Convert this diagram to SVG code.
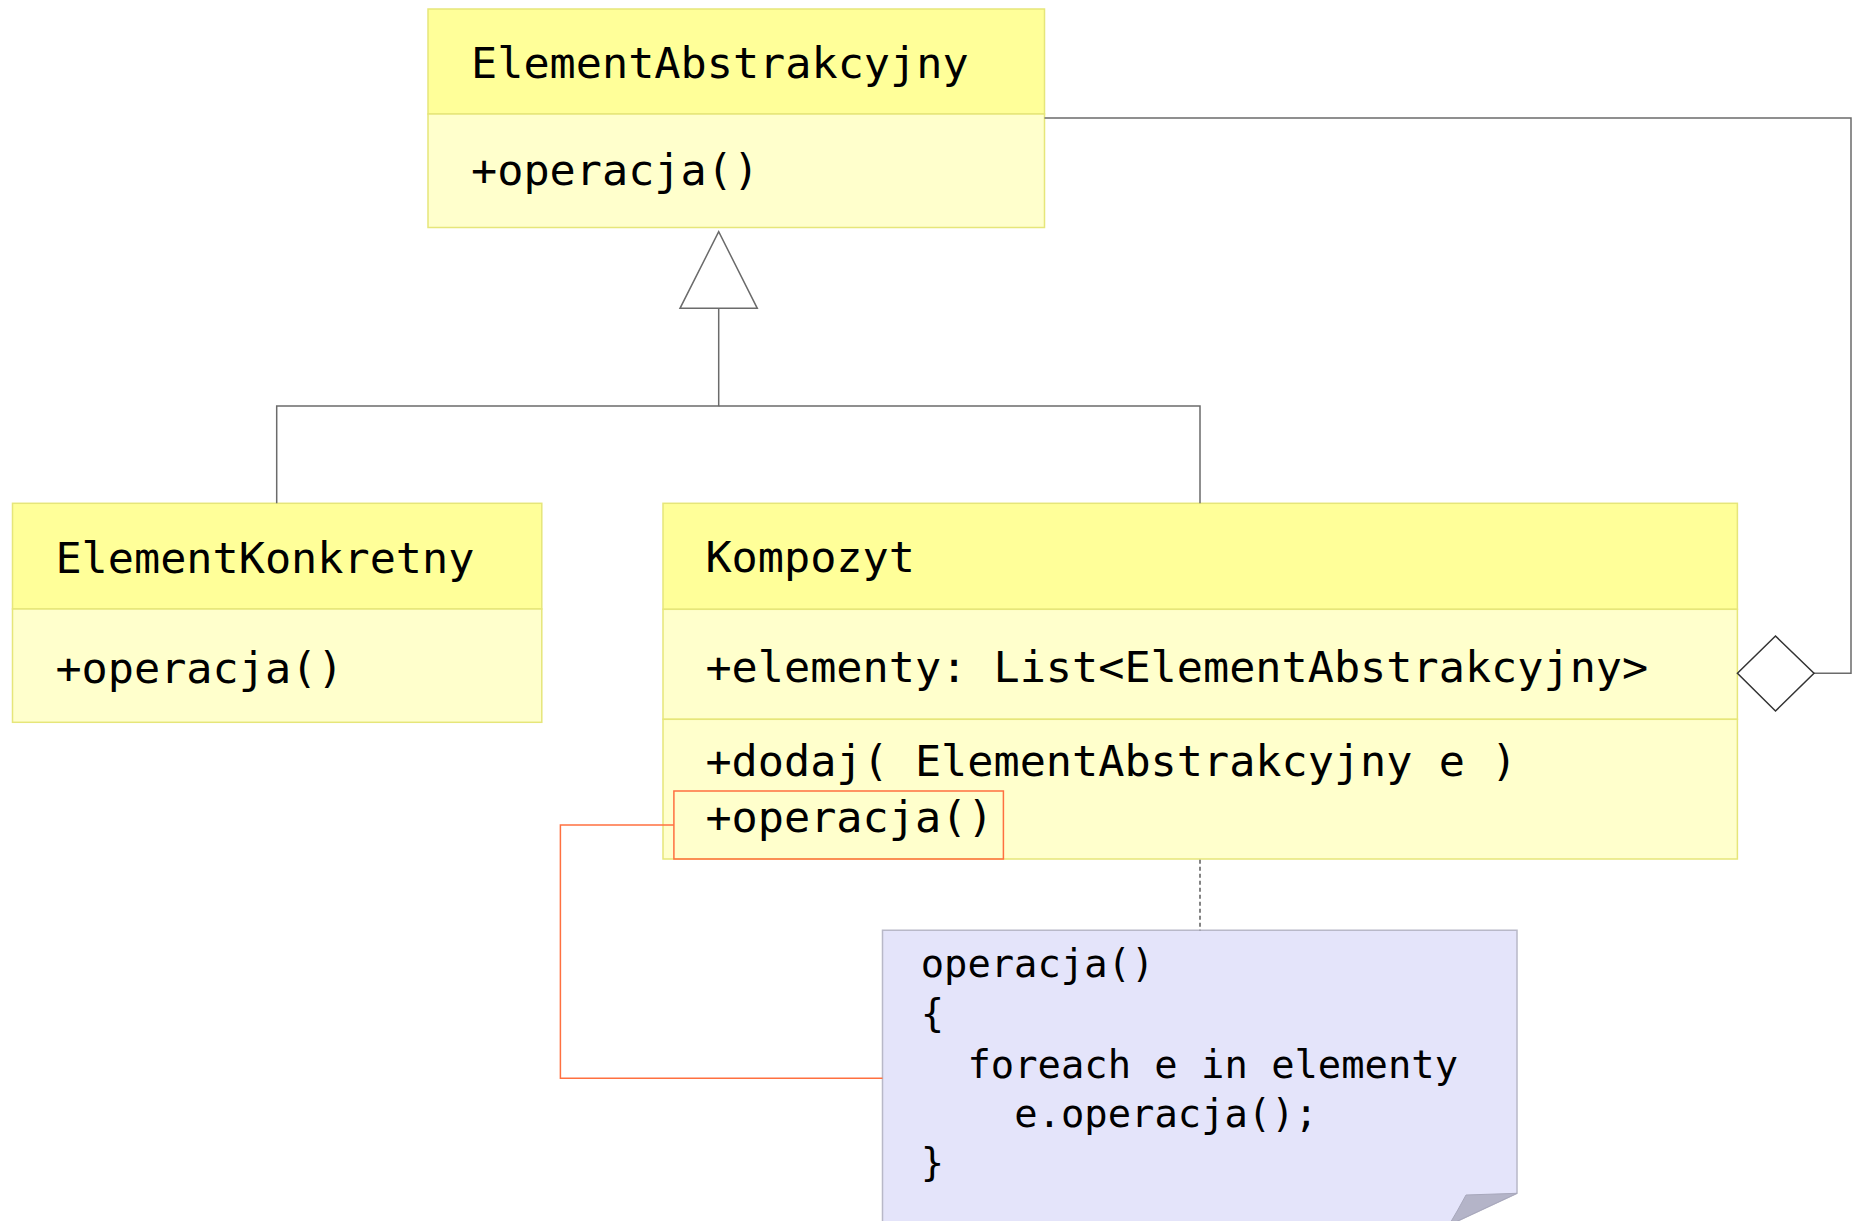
<svg xmlns="http://www.w3.org/2000/svg" width="1854" height="1221" viewBox="0 0 1854 1221">
<style>
.hdr{fill:#ffff99;stroke:#e6e67a;stroke-width:1.5}
.bdy{fill:#ffffcc;stroke:#e6e67a;stroke-width:1.5}
.t{font-family:"DejaVu Sans Mono","Liberation Mono",monospace;font-size:43.5px;fill:#000}
.n{font-family:"DejaVu Sans Mono","Liberation Mono",monospace;font-size:38.8px;fill:#000}
.c{fill:none;stroke:#6b6b6b;stroke-width:1.5}
.o{fill:none;stroke:#ff7040;stroke-width:1.5}
</style>
<rect width="1854" height="1221" fill="#fff"/>
<g id="ElementAbstrakcyjny">
<rect class="hdr" x="428" y="9" width="616.5" height="105"/>
<rect class="bdy" x="428" y="114" width="616.5" height="113.5"/>
<text class="t" x="471" y="78">ElementAbstrakcyjny</text>
<text class="t" x="471" y="185">+operacja()</text>
</g>
<g id="ElementKonkretny">
<rect class="hdr" x="12.5" y="503.3" width="529.3" height="105.7"/>
<rect class="bdy" x="12.5" y="609" width="529.3" height="113.3"/>
<text class="t" x="55.4" y="573">ElementKonkretny</text>
<text class="t" x="55.4" y="683">+operacja()</text>
</g>
<g id="Kompozyt">
<rect class="hdr" x="663" y="503.3" width="1074.4" height="106"/>
<rect class="bdy" x="663" y="609.3" width="1074.4" height="110"/>
<rect class="bdy" x="663" y="719.3" width="1074.4" height="139.7"/>
<text class="t" x="705.4" y="572">Kompozyt</text>
<text class="t" x="705.4" y="682">+elementy: List&lt;ElementAbstrakcyjny&gt;</text>
<text class="t" x="705.4" y="776">+dodaj( ElementAbstrakcyjny e )</text>
<text class="t" x="705.4" y="832">+operacja()</text>
<rect class="o" x="673.9" y="791" width="329.5" height="68"/>
</g>
<g id="note">
<path d="M882.5,930.3 H1517 V1193.3 L1449,1225 H882.5 Z" fill="#e4e4fa" stroke="#b8b8c8" stroke-width="1.5"/>
<path d="M1517,1193.3 L1466,1195 Q1458,1210 1449,1225 Z" fill="#b4b4c8" stroke="#a8a8bc" stroke-width="1"/>
<text class="n" x="920.7" y="977">operacja()</text>
<text class="n" x="920.7" y="1027">{</text>
<text class="n" x="967.5" y="1078">foreach e in elementy</text>
<text class="n" x="1014.3" y="1127">e.operacja();</text>
<text class="n" x="920.7" y="1176">}</text>
</g>
<g id="connectors">
<polygon class="c" points="718.7,231.7 680,308.3 757.3,308.3" fill="#fff"/>
<polyline class="c" points="718.7,308.3 718.7,406 276.7,406 276.7,503.3"/>
<polyline class="c" points="718.7,406 1200,406 1200,503.3"/>
<polyline class="c" points="1814,673.3 1851,673.3 1851,118 1044.5,118"/>
<polygon points="1737.4,673.3 1775.5,636 1814,673.3 1775.5,711" fill="#fff" stroke="#333" stroke-width="1.5"/>
<line x1="1200" y1="859.8" x2="1200" y2="930.3" stroke="#333" stroke-width="1.2" stroke-dasharray="4,3"/>
<polyline class="o" points="673.9,825 560.4,825 560.4,1078.3 882.5,1078.3"/>
</g>
</svg>
